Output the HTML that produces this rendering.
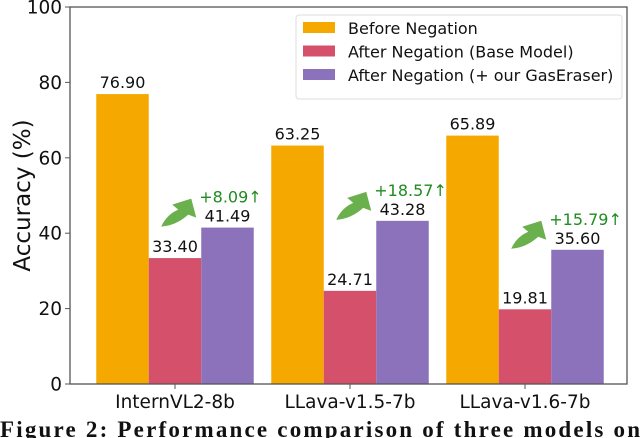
<!DOCTYPE html>
<html><head><meta charset="utf-8"><style>
body{margin:0;background:#fff;width:640px;height:438px;overflow:hidden}
svg{display:block;font-family:"DejaVu Sans","Liberation Sans",sans-serif}
</style></head><body>
<svg id="c" width="640" height="438"></svg>
<script>
const categories=["InternVL2-8b","LLava-v1.5-7b","LLava-v1.6-7b"];
const beforeVals=[76.90,63.25,65.89];
const afterBase=[33.40,24.71,19.81];
const afterOurs=[41.49,43.28,35.60];
const gains=["+8.09","+18.57","+15.79"];
const yTicks=[0,20,40,60,80,100];
const seriesNames=["Before Negation","After Negation (Base Model)","After Negation (+ our GasEraser)"];
const colors=["#F5A800","#D5506B","#8B72BA"];
const NS="http://www.w3.org/2000/svg";
const svg=document.getElementById("c");
const L=70,R=627,T=7,B=384;
function y(v){return B-(v/100)*(B-T);}
function gx(i){return 175+i*175;}
const bw=52.5;
function el(t,a,p){const e=document.createElementNS(NS,t);for(const k in a)e.setAttribute(k,a[k]);(p||svg).appendChild(e);return e;}
function tx(s,a){const e=el("text",a);e.textContent=s;return e;}
const series=[beforeVals,afterBase,afterOurs];
series.forEach((vals,s)=>{vals.forEach((v,i)=>{
 const x=gx(i)+(s-1)*bw-bw/2;
 const r=el("rect",{x:x,y:y(v),width:bw,height:B-y(v),fill:colors[s]});
 
 
 const t=tx(v.toFixed(2),{x:x+bw/2,y:y(v)-6,"text-anchor":"middle","font-size":"16",fill:"#111"});
 
 
});});
gains.forEach((g,i)=>{
 const pl=gx(i)+bw/2, top=y(afterOurs[i]);
 const t=tx(g+"↑",{x:pl-2,y:top-25,"font-size":"16",fill:"#1E8C1E"});
 
 
 const p=el("path",{d:`M${pl-40},${top-1} C${pl-36},${top-10} ${pl-30},${top-15} ${pl-23},${top-18} L${pl-29},${top-23} L${pl-10},${top-29} L${pl-5},${top-10} L${pl-13},${top-13} C${pl-22},${top-5} ${pl-30},${top-2} ${pl-40},${top-1} Z`,fill:"#6AB04C"});
 
 
});
el("rect",{x:L,y:T,width:R-L,height:B-T,fill:"none",stroke:"#555","stroke-width":"1.3"});
yTicks.forEach(v=>{
 el("line",{x1:L-5,x2:L,y1:y(v),y2:y(v),stroke:"#555"});
 const t=tx(String(v),{x:L-8,y:y(v)+6.5,"text-anchor":"end","font-size":"18.5",fill:"#111"});
 
 
});
categories.forEach((c,i)=>{
 el("line",{x1:gx(i),x2:gx(i),y1:B,y2:B+5,stroke:"#555"});
 const t=tx(c,{x:gx(i),y:B+24,"text-anchor":"middle","font-size":"18.5",fill:"#111"});
 
 
});
const yt=tx("Accuracy (%)",{x:0,y:0,transform:`translate(30,${(T+B)/2}) rotate(-90)`,"text-anchor":"middle","font-size":"23",fill:"#111"});


const lg=el("g",{});


el("rect",{x:296,y:15,width:326,height:84,rx:3,fill:"#fff",stroke:"#ddd"},lg);
seriesNames.forEach((n,s)=>{
 const yy=28+s*23.5;
 el("rect",{x:303,y:yy-6,width:32,height:11,fill:colors[s]},lg);
 const t=tx(n,{x:348,y:yy+6,"font-size":"16",fill:"#111"});
 lg.appendChild(t);
 
 
});
const cap=tx("Figure 2: Performance comparison of three models on",{x:0,y:437,"font-size":"23","font-weight":"bold","font-family":"Liberation Serif,serif",fill:"#111",textLength:"640",lengthAdjust:"spacing"});


</script>
</body></html>
